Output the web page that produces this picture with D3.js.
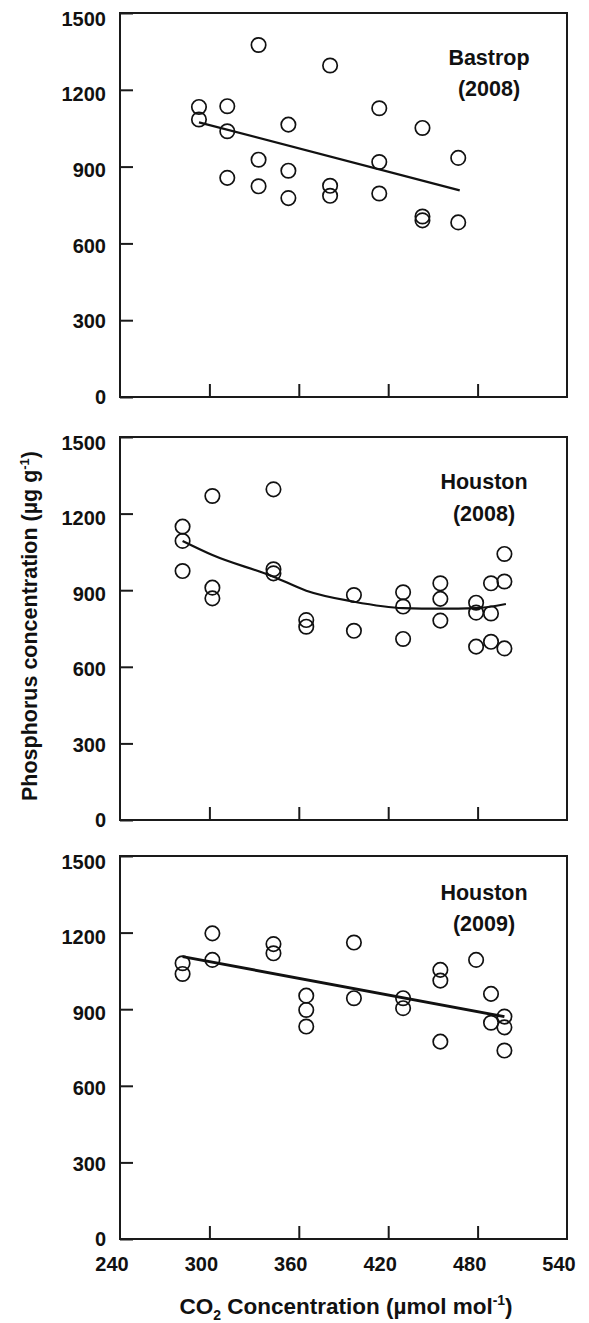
<!DOCTYPE html>
<html><head><meta charset="utf-8">
<script src="https://cdn.jsdelivr.net/npm/d3@7"></script>
<style>body{margin:0;background:#fff}svg{display:block}text{font-family:"Liberation Sans",Arial,sans-serif;font-weight:bold;fill:#111}</style>
</head><body>
<script>
// ---- data ----
const xTicks = [240, 300, 360, 420, 480, 540];
const yTicks = [0, 300, 600, 900, 1200, 1500];

const bastropX = [293,293,312,312,312,333,333,333,353,353,353,381,381,381,414,414,414,443,443,443,467,467];
const bastropY = [1133,1084,1136,1038,856,1375,927,823,1064,884,777,1295,825,786,1128,918,795,1051,705,690,934,682];
const bastropFitX = [293, 468];
const bastropFitY = [1073, 807];

const houston08X = [282,282,282,302,302,302,343,343,343,365,365,397,397,430,430,430,455,455,455,479,479,489,489,498,498,479,489,498];
const houston08Y = [1149,1093,975,1269,910,868,1295,982,966,783,757,881,741,892,836,709,927,866,781,851,812,809,927,934,1042,679,698,672];
const houston08FitX = [282, 302, 343, 365, 397, 430, 455, 479, 499];
const houston08FitY = [1093, 1038, 953, 898, 855, 830, 828, 830, 846];

const houston09X = [282,282,302,302,343,343,365,365,365,397,397,430,430,455,455,455,479,489,489,498,498,498];
const houston09Y = [1080,1038,1197,1093,1155,1119,953,897,832,1161,943,943,904,1054,1012,773,1093,960,847,871,829,738];
const houston09FitX = [282, 498];
const houston09FitY = [1106, 871];

const panels = [
  {name:["Bastrop","(2008)"], xs:bastropX, ys:bastropY, fx:bastropFitX, fy:bastropFitY, top:13, bottom:397, lw:2.2, curve:false, labelX:489, labelY:[65,96]},
  {name:["Houston","(2008)"], xs:houston08X, ys:houston08Y, fx:houston08FitX, fy:houston08FitY, top:437, bottom:820, lw:2.2, curve:true, labelX:484, labelY:[489,521]},
  {name:["Houston","(2009)"], xs:houston09X, ys:houston09Y, fx:houston09FitX, fy:houston09FitY, top:856, bottom:1239, lw:3, curve:false, labelX:484, labelY:[900,931]}
];

const W = 589, H = 1323;
const left = 120, right = 567;
const svg = d3.select("body").append("svg").attr("width", W).attr("height", H);
const x = d3.scaleLinear().domain([240, 540]).range([left, right]);

panels.forEach((p, i) => {
  const y = d3.scaleLinear().domain([0, 1500]).range([p.bottom, p.top]);
  const g = svg.append("g");
  g.append("rect").attr("x", left).attr("y", p.top).attr("width", right - left).attr("height", p.bottom - p.top)
    .attr("fill", "none").attr("stroke", "#1a1a1a").attr("stroke-width", 2);
  const ya = g.append("g").attr("transform", `translate(${left},0)`)
    .call(d3.axisRight(y).tickValues(yTicks).tickSize(13).tickFormat(""));
  ya.select(".domain").remove();
  ya.selectAll("line").attr("stroke", "#1a1a1a").attr("stroke-width", 2);
  g.selectAll(".ylab").data(yTicks).join("text")
    .attr("x", 106).attr("y", d => y(d) + 7 + 5.5 * d / 1500).attr("text-anchor", "end")
    .attr("font-size", 20).text(d => d);
  const xa = g.append("g").attr("transform", `translate(0,${p.bottom})`)
    .call(d3.axisTop(x).tickValues(xTicks.slice(1, -1)).tickSize(13).tickFormat(""));
  xa.select(".domain").remove();
  xa.selectAll("line").attr("stroke", "#1a1a1a").attr("stroke-width", 2);
  if (i === 2) {
    g.selectAll(".xlab").data(xTicks).join("text")
      .attr("x", d => x(d) - 8).attr("y", p.bottom + 32).attr("text-anchor", "middle")
      .attr("font-size", 20).text(d => d);
  }
  const line = d3.line().x(d => x(d[0])).y(d => y(d[1]));
  if (p.curve) line.curve(d3.curveMonotoneX);
  g.append("path").datum(p.fx.map((v, k) => [v, p.fy[k]])).attr("d", line)
    .attr("fill", "none").attr("stroke", "#111").attr("stroke-width", p.lw);
  g.selectAll("circle").data(p.xs.map((v, k) => [v, p.ys[k]])).join("circle")
    .attr("cx", d => x(d[0])).attr("cy", d => y(d[1])).attr("r", 7.2)
    .attr("fill", "none").attr("stroke", "#111").attr("stroke-width", 1.7);
  p.name.forEach((t, k) => {
    g.append("text").attr("x", p.labelX).attr("y", p.labelY[k]).attr("text-anchor", "middle")
      .attr("font-size", 21.5).text(t);
  });
});

const xt = svg.append("text").attr("x", 346).attr("y", 1314).attr("text-anchor", "middle").attr("font-size", 22.5);
xt.append("tspan").text("CO");
xt.append("tspan").attr("font-size", 14).attr("dy", 6).text("2");
xt.append("tspan").attr("dy", -6).text(" Concentration (\u00b5mol mol");
xt.append("tspan").attr("font-size", 14).attr("dy", -9).text("-1");
xt.append("tspan").attr("dy", 9).text(")");

const yt = svg.append("text").attr("transform", "translate(37,626) rotate(-90)").attr("text-anchor", "middle").attr("font-size", 21.5);
yt.append("tspan").text("Phosphorus concentration (\u00b5g g");
yt.append("tspan").attr("font-size", 13).attr("dy", -8).text("-1");
yt.append("tspan").attr("dy", 8).text(")");
</script>
</body></html>
